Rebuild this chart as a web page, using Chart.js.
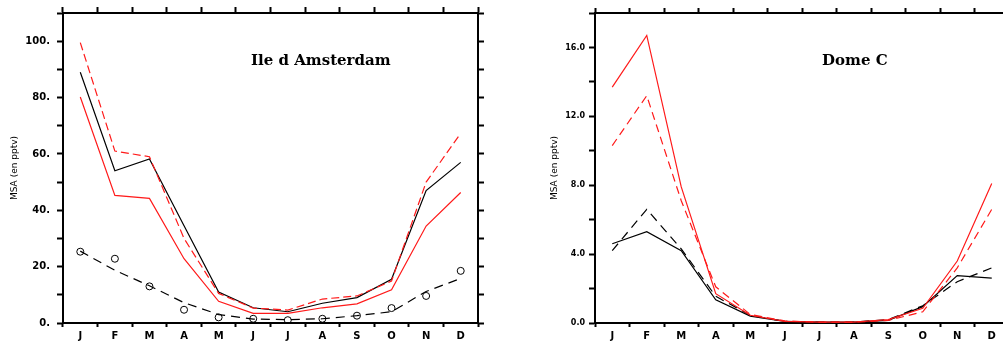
<!DOCTYPE html>
<html>
<head>
<meta charset="utf-8">
<script src="https://cdn.jsdelivr.net/npm/chart.js@4.4.0/dist/chart.umd.min.js"></script>
<style>
  html, body { margin: 0; padding: 0; background: #fff; overflow: hidden; width: 1003px; height: 348px; }
  .panel { position: absolute; top: 0; height: 348px; width: 500px; }
  #amsPanel { left: 0; }
  #domePanel { left: 530px; }
</style>
</head>
<body>
<div class="panel" id="amsPanel"><canvas id="amsChart"></canvas></div>
<div class="panel" id="domePanel"><canvas id="domeChart"></canvas></div>
<script>
const months = ['J', 'F', 'M', 'A', 'M', 'J', 'J', 'A', 'S', 'O', 'N', 'D'];

// Ile d Amsterdam
const amsRedDashed   = [99.5, 61, 59, 30, 10.5, 5.3, 4.6, 8.5, 9.6, 14.9, 50, 67.3];
const amsBlack       = [89, 54, 58.2, 34.5, 11, 5.4, 4, 7, 9, 15.5, 47, 57];
const amsRed         = [80.2, 45.3, 44.2, 22.8, 7.7, 3.4, 3.4, 5.4, 6.8, 11.8, 34.4, 46.3];
const amsBlackDashed = [25.5, 18.7, 13.2, 7.2, 3, 1.4, 1.2, 1.5, 2.6, 4, 11.2, 15.8];
const amsObserved    = [25.3, 22.8, 13, 4.7, 2, 1.5, 1, 1.5, 2.6, 5.3, 9.6, 18.5];

// Dome C
const domeRed         = [13.7, 16.7, 7.9, 1.7, 0.45, 0.1, 0.05, 0.05, 0.2, 0.85, 3.6, 8.1];
const domeRedDashed   = [10.3, 13.2, 7.1, 2.1, 0.5, 0.12, 0.05, 0.05, 0.15, 0.65, 3.2, 6.6];
const domeBlack       = [4.6, 5.3, 4.2, 1.35, 0.4, 0.1, 0.05, 0.05, 0.15, 0.95, 2.75, 2.6];
const domeBlackDashed = [4.2, 6.6, 4.3, 1.55, 0.45, 0.1, 0.05, 0.05, 0.2, 1.0, 2.4, 3.2];

const RED = '#ff1a1a';
const BLACK = '#000000';

const panelLabel = {
    id: 'panelLabel',
    afterDraw(chart, args, opts) {
        let { ctx, chartArea } = chart;
        ctx.save();
        ctx.font = 'bold 15px "DejaVu Serif"';
        ctx.fillStyle = '#000';
        ctx.textBaseline = 'alphabetic';
        ctx.fillText(opts.text, chartArea.left + opts.dx, chartArea.top + opts.dy);
        ctx.restore();
    }
};

function lineSet(data, color, dash) {
    return {
        data: data,
        borderColor: color,
        backgroundColor: color,
        borderWidth: 1.2,
        borderDash: dash || [],
        pointRadius: 0,
        tension: 0,
        fill: false
    };
}

function buildScales(p) {
    const frame = { display: true, color: '#000', width: 2 };
    const tickGrid = (len) => ({ drawOnChartArea: false, tickLength: len, tickWidth: 2, tickColor: '#000' });
    return {
        x: {
            position: 'bottom', offset: true,
            grid: Object.assign(tickGrid(4), { offset: true }),
            border: frame,
            ticks: { color: '#000', font: { family: 'DejaVu Sans', weight: 'bold', size: 10 }, padding: 3, maxRotation: 0, autoSkip: false },
            afterFit: (s) => { s.height = 25; }
        },
        xTop: {
            position: 'top', offset: true,
            grid: Object.assign(tickGrid(p.topTick), { offset: true }),
            border: frame,
            ticks: { display: false },
            afterFit: (s) => { s.height = 13; }
        },
        y: {
            position: 'left', min: 0, max: p.max,
            grid: tickGrid(6),
            border: frame,
            ticks: {
                stepSize: p.step, color: '#000', padding: p.labelPad,
                font: { family: 'DejaVu Sans', weight: 'bold', size: p.labelSize },
                callback: (v) => (Math.abs(v % p.labelEvery) < 1e-9 ? p.format(v) : '')
            },
            title: {
                display: true, text: 'MSA (en pptv)', color: '#000',
                font: { family: 'DejaVu Sans', size: 9 }, padding: { top: p.titlePad, bottom: 0 }
            },
            afterFit: (s) => { s.width = p.leftWidth; }
        },
        yRight: {
            position: 'right', min: 0, max: p.max,
            grid: tickGrid(6),
            border: frame,
            ticks: { stepSize: p.step, display: false },
            afterFit: (s) => { s.width = p.rightWidth; }
        }
    };
}

function buildChart(canvasId, datasets, scaleParams, label) {
    return new Chart(document.getElementById(canvasId), {
        type: 'line',
        data: { labels: months, datasets: datasets },
        options: {
            responsive: true,
            maintainAspectRatio: false,
            devicePixelRatio: 1,
            animation: false,
            layout: { padding: 0 },
            scales: buildScales(scaleParams),
            plugins: {
                legend: { display: false },
                tooltip: { enabled: false },
                panelLabel: label
            }
        },
        plugins: [panelLabel]
    });
}

buildChart('amsChart', [
    lineSet(amsRedDashed, RED, [8, 4]),
    lineSet(amsBlack, BLACK),
    lineSet(amsRed, RED),
    lineSet(amsBlackDashed, BLACK, [9, 6]),
    {
        data: amsObserved,
        showLine: false,
        pointRadius: 3.5,
        pointStyle: 'circle',
        pointBorderColor: BLACK,
        pointBorderWidth: 1,
        pointBackgroundColor: 'rgba(0,0,0,0)'
    }
], {
    max: 110, step: 10, labelEvery: 20, format: (v) => v.toFixed(0) + '.',
    labelSize: 10, labelPad: 7, leftWidth: 63, rightWidth: 22, topTick: 6, titlePad: 9.5
}, { text: 'Ile d Amsterdam', dx: 188, dy: 52 });

buildChart('domeChart', [
    lineSet(domeRed, RED),
    lineSet(domeRedDashed, RED, [8, 5]),
    lineSet(domeBlack, BLACK),
    lineSet(domeBlackDashed, BLACK, [9, 6])
], {
    max: 18, step: 2, labelEvery: 4, format: (v) => v.toFixed(1),
    labelSize: 8, labelPad: 4, leftWidth: 65, rightWidth: 21, topTick: 5, titlePad: 19.5
}, { text: 'Dome C', dx: 227, dy: 52 });
</script>
</body>
</html>
